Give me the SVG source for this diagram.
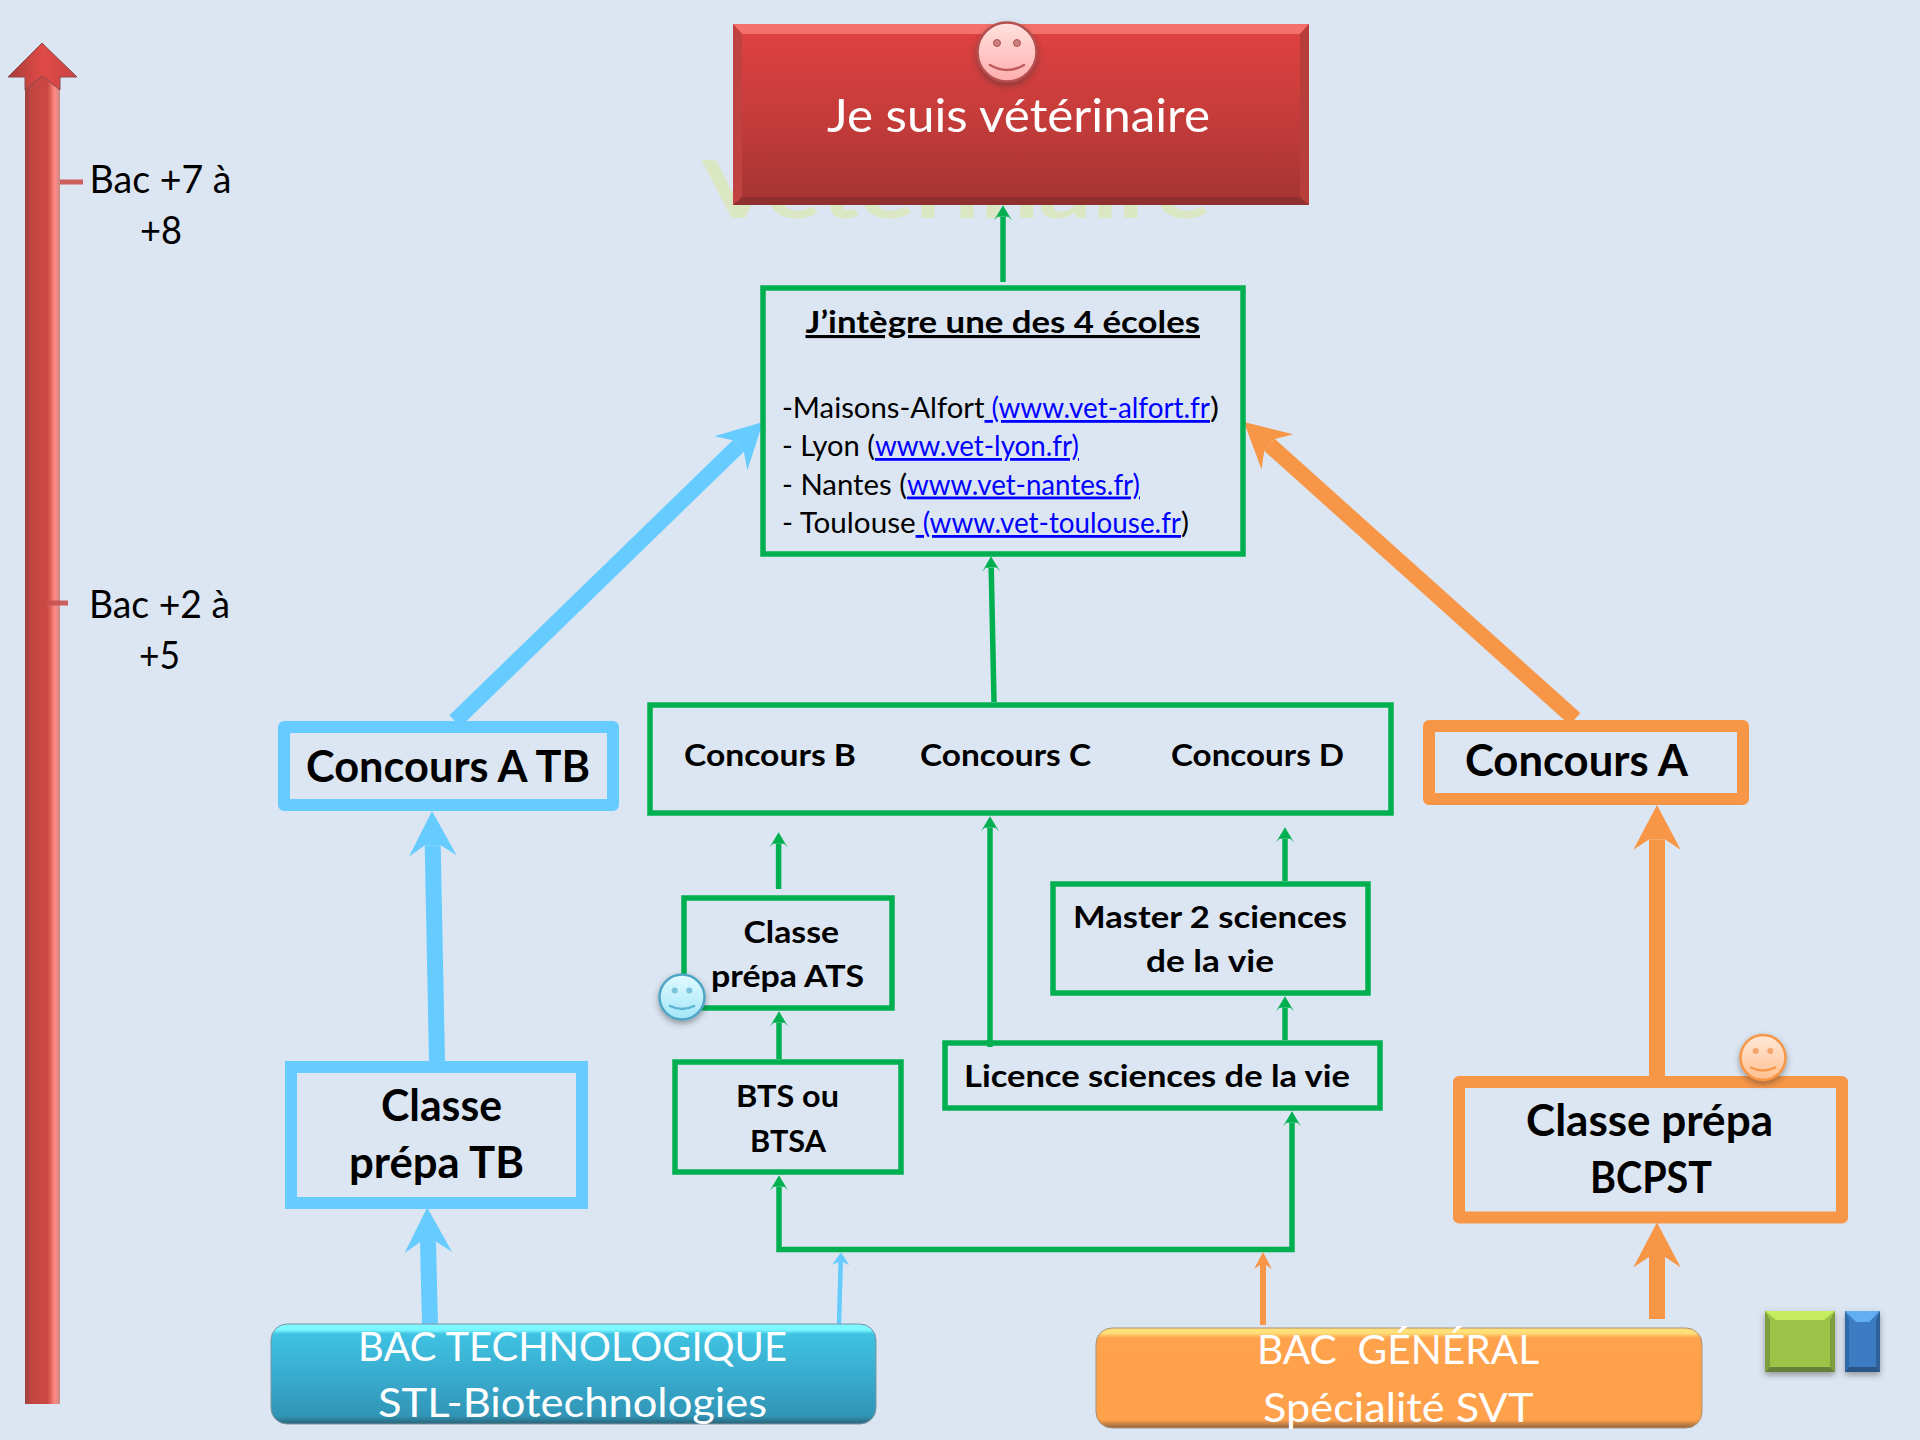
<svg xmlns="http://www.w3.org/2000/svg" width="1920" height="1440" viewBox="0 0 1920 1440">
<style>
text{font-family:"Lato","Carlito","Liberation Sans",sans-serif;fill:#000;white-space:pre}
.b{font-weight:700}
.big{font-size:43px;font-weight:700}
.mid{font-size:31px;font-weight:700}
.scale{font-size:38px}
.link{font-size:28px}
.lk{fill:#0000ff;text-decoration:underline}
.ul{text-decoration:underline}
.w{fill:#fff;font-size:41px}
.gb{fill:none;stroke:#00B050;stroke-width:5.5}
.bb{fill:none;stroke:#66CCFF;stroke-width:12;stroke-linejoin:round}
.ob{fill:none;stroke:#F79646;stroke-width:12;stroke-linejoin:round}
.cg{fill:none;stroke:#00B050;stroke-width:5.5;marker-end:url(#mg)}
.cb{fill:none;stroke:#66CCFF;stroke-width:16;marker-end:url(#mb)}
.co{fill:none;stroke:#F79646;stroke-width:16;marker-end:url(#mo)}
.tick{fill:#C8504E;opacity:.9}
.face{fill:none;stroke-width:2.5;stroke-linecap:round}
</style>
<defs>
<marker id="mg" viewBox="0 -2 3 4" refX=".65" refY="0" markerWidth="3" markerHeight="4" orient="auto-start-reverse" markerUnits="strokeWidth"><path d="M0-1.65L2.8 0L0 1.65L.7 1V-1z" fill="#00B050"/></marker>
<marker id="mb" viewBox="0 -2 3 4" refX=".65" refY="0" markerWidth="3" markerHeight="4" orient="auto" markerUnits="strokeWidth"><path d="M0-1.48L2.8 0L0 1.48L.65 .5V-.5z" fill="#66CCFF"/></marker>
<marker id="mbt" viewBox="0 -2 3 4" refX=".65" refY="0" markerWidth="3" markerHeight="4" orient="auto" markerUnits="strokeWidth"><path d="M0-1.9L2.8 0L0 1.9L.65 .5V-.5z" fill="#66CCFF"/></marker>
<marker id="mo" viewBox="0 -2 3 4" refX=".65" refY="0" markerWidth="3" markerHeight="4" orient="auto" markerUnits="strokeWidth"><path d="M0-1.48L2.8 0L0 1.48L.65 .5V-.5z" fill="#F79646"/></marker>
<linearGradient id="gred" x1="0" y1="0" x2="0" y2="1"><stop offset="0" stop-color="#E04242"/><stop offset=".5" stop-color="#C63C3A"/><stop offset="1" stop-color="#A33533"/></linearGradient>
<linearGradient id="gshaft" x1="0" y1="0" x2="1" y2="0"><stop offset="0" stop-color="#9A423E"/><stop offset=".18" stop-color="#C14640"/><stop offset=".65" stop-color="#CC4842"/><stop offset=".85" stop-color="#FF8A84"/><stop offset="1" stop-color="#C98A88"/></linearGradient>
<linearGradient id="ghead" x1="0" y1="0" x2="1" y2="0"><stop offset="0" stop-color="#A83C38"/><stop offset=".5" stop-color="#E04A46"/><stop offset="1" stop-color="#C84442"/></linearGradient>
<linearGradient id="gtech" x1="0" y1="0" x2="0" y2="1"><stop offset="0" stop-color="#7DF7FF"/><stop offset=".06" stop-color="#7DF7FF"/><stop offset=".1" stop-color="#3FC2E2"/><stop offset=".5" stop-color="#39ADCF"/><stop offset=".92" stop-color="#3195B6"/><stop offset=".98" stop-color="#2B6F86"/><stop offset="1" stop-color="#2B6578"/></linearGradient>
<linearGradient id="ggen" x1="0" y1="0" x2="0" y2="1"><stop offset="0" stop-color="#FFE078"/><stop offset=".05" stop-color="#FFE078"/><stop offset=".1" stop-color="#FFA24C"/><stop offset=".92" stop-color="#FFA04A"/><stop offset=".98" stop-color="#A97242"/><stop offset="1" stop-color="#96683E"/></linearGradient>
<linearGradient id="gsr" x1="0" y1="0" x2="0" y2="1"><stop offset="0" stop-color="#FFE2DE"/><stop offset="1" stop-color="#FFAEAE"/></linearGradient>
<linearGradient id="gsb" x1="0" y1="0" x2="0" y2="1"><stop offset="0" stop-color="#E2FAFF"/><stop offset="1" stop-color="#A2E6F8"/></linearGradient>
<linearGradient id="gso" x1="0" y1="0" x2="0" y2="1"><stop offset="0" stop-color="#FFE8D8"/><stop offset="1" stop-color="#FFC090"/></linearGradient>
<filter id="sh" x="-30%" y="-30%" width="160%" height="170%"><feDropShadow dx="0" dy="3" stdDeviation="3" flood-color="#333" flood-opacity=".45"/></filter>
</defs>
<rect width="1920" height="1440" fill="#DCE6F2"/>

<text x="702" y="218" font-size="80" font-weight="700" textLength="509" lengthAdjust="spacingAndGlyphs" style="fill:#DBE7C2">Vétérinaire</text>

<g id="scale-arrow">
<rect x="25" y="76" width="35" height="1328" fill="url(#gshaft)"/>
<path d="M42 43L77 77H60V90L42 76L25 90V77H8z" fill="url(#ghead)" stroke="#8A4A50" stroke-width="1"/>
<rect class="tick" x="60" y="179.500" width="23" height="5"/>
<rect class="tick" x="45" y="600.500" width="23" height="5"/>
<text class="scale" x="89.500" y="193" textLength="142" lengthAdjust="spacingAndGlyphs">Bac +7 à</text>
<text class="scale" x="140" y="243.500" textLength="42" lengthAdjust="spacingAndGlyphs">+8</text>
<text class="scale" x="89" y="618" textLength="141" lengthAdjust="spacingAndGlyphs">Bac +2 à</text>
<text class="scale" x="139" y="668.500" textLength="41" lengthAdjust="spacingAndGlyphs">+5</text>
</g>

<g id="connectors">
<path class="cg" d="M1003 282V217"/>
<path class="cg" d="M994 702L991.200 568"/>
<path class="cg" d="M778.600 889V844"/>
<path class="cg" d="M990 1047V828"/>
<path class="cg" d="M1285 881V839"/>
<path class="cg" d="M779 1059V1023"/>
<path class="cg" d="M1285 1040V1008"/>
<path class="cg" style="marker-start:url(#mg)" d="M779 1187V1249.500H1292V1123"/>
<path class="cb" d="M455 721L738.300 446"/>
<path class="co" d="M1575 719L1269.600 445"/>
<path class="cb" d="M437 1061L432.700 845.400"/>
<path class="cb" d="M430 1324L428 1242"/>
<path class="co" d="M1657 1076V839.400"/>
<path class="co" d="M1657 1319V1257"/>
<path fill="none" stroke="#66CCFF" stroke-width="4.500" marker-end="url(#mbt)" d="M839 1324L840.700 1262"/>
<path fill="none" stroke="#F79646" stroke-width="6" marker-end="url(#mo)" d="M1263 1325V1265"/>
</g>

<g id="vet">
<rect x="733" y="24" width="576" height="181" fill="url(#gred)"/>
<path d="M733 24H1309L1300 34H742z" fill="#F4716B"/>
<path d="M733 205H1309L1300 197H742z" fill="#8F302E"/>
<path d="M733 24L742 34V197L733 205z" fill="#C04240"/>
<path d="M1309 24L1300 34V197L1309 205z" fill="#B83E3C"/>
<text x="827" y="132" font-size="47" textLength="383" lengthAdjust="spacingAndGlyphs" style="fill:#fff">Je suis vétérinaire</text>
</g>
<g id="smiley-red" transform="translate(1007 52)">
<circle r="29.500" fill="url(#gsr)" stroke="#B5504F" stroke-width="2.500" filter="url(#sh)"/>
<circle cx="-10" cy="-9" r="3.500" fill="#C98080" stroke="#B5504F"/><circle cx="10" cy="-9" r="3.500" fill="#C98080" stroke="#B5504F"/>
<path class="face" stroke="#C05A5A" d="M-17 13Q0 23 17 13"/>
</g>

<g id="ecoles">
<rect class="gb" x="763" y="288" width="480" height="266"/>
<text class="ul b" font-size="31" x="805.500" y="333" textLength="394.500" lengthAdjust="spacingAndGlyphs">J’intègre une des 4 écoles</text>
<text class="link" x="782" y="418" textLength="202.500" lengthAdjust="spacingAndGlyphs">-Maisons-Alfort</text>
<text class="link lk" x="984.500" y="418" textLength="225.500" lengthAdjust="spacingAndGlyphs"> (www.vet-alfort.fr</text>
<text class="link" x="1210" y="418" textLength="9" lengthAdjust="spacingAndGlyphs">)</text>
<text class="link" x="782" y="456" textLength="93" lengthAdjust="spacingAndGlyphs">- Lyon (</text>
<text class="link lk" x="875" y="456" textLength="204" lengthAdjust="spacingAndGlyphs">www.vet-lyon.fr)</text>
<text class="link" x="782" y="494.500" textLength="125" lengthAdjust="spacingAndGlyphs">- Nantes (</text>
<text class="link lk" x="907" y="494.500" textLength="233" lengthAdjust="spacingAndGlyphs">www.vet-nantes.fr)</text>
<text class="link" x="782" y="533" textLength="133.600" lengthAdjust="spacingAndGlyphs">- Toulouse</text>
<text class="link lk" x="915.600" y="533" textLength="265.400" lengthAdjust="spacingAndGlyphs"> (www.vet-toulouse.fr</text>
<text class="link" x="1181" y="533" textLength="8" lengthAdjust="spacingAndGlyphs">)</text>
</g>

<g id="concours-bcd">
<rect class="gb" x="650" y="705" width="741" height="108"/>
<text class="mid" x="684" y="766" textLength="172" lengthAdjust="spacingAndGlyphs">Concours B</text>
<text class="mid" x="920" y="766" textLength="171" lengthAdjust="spacingAndGlyphs">Concours C</text>
<text class="mid" x="1171" y="766" textLength="173" lengthAdjust="spacingAndGlyphs">Concours D</text>
</g>

<g id="concours-a-tb">
<rect class="bb" x="284" y="727" width="329" height="78"/>
<text class="big" x="306" y="782" textLength="284" lengthAdjust="spacingAndGlyphs">Concours A TB</text>
</g>
<g id="concours-a">
<rect class="ob" x="1429" y="726" width="314" height="73"/>
<text class="big" x="1465" y="776" textLength="223" lengthAdjust="spacingAndGlyphs">Concours A</text>
</g>
<g id="prepa-tb">
<rect class="bb" x="291" y="1067" width="291" height="136" style="stroke-linejoin:miter"/>
<text class="big" x="381" y="1121" textLength="121" lengthAdjust="spacingAndGlyphs">Classe</text>
<text class="big" x="349" y="1178" textLength="175" lengthAdjust="spacingAndGlyphs">prépa TB</text>
</g>
<g id="prepa-bcpst">
<rect class="ob" x="1459" y="1082" width="383" height="135.500"/>
<text class="big" x="1526" y="1135.500" textLength="247" lengthAdjust="spacingAndGlyphs">Classe prépa</text>
<text class="big" x="1590" y="1193" textLength="122" lengthAdjust="spacingAndGlyphs">BCPST</text>
</g>
<g id="prepa-ats">
<rect class="gb" x="684" y="898" width="208" height="110"/>
<text class="mid" x="743.500" y="943" textLength="95.500" lengthAdjust="spacingAndGlyphs">Classe</text>
<text class="mid" x="711" y="987" textLength="153" lengthAdjust="spacingAndGlyphs">prépa ATS</text>
</g>
<g id="bts">
<rect class="gb" x="675" y="1062" width="226" height="110"/>
<text class="mid" x="736" y="1107" textLength="103" lengthAdjust="spacingAndGlyphs">BTS ou</text>
<text class="mid" x="750" y="1152" textLength="76" lengthAdjust="spacingAndGlyphs">BTSA</text>
</g>
<g id="master">
<rect class="gb" x="1053" y="884" width="315" height="109"/>
<text class="mid" x="1073" y="928" textLength="274" lengthAdjust="spacingAndGlyphs">Master 2 sciences</text>
<text class="mid" x="1146" y="972" textLength="128" lengthAdjust="spacingAndGlyphs">de la vie</text>
</g>
<g id="licence">
<rect class="gb" x="945" y="1043" width="435" height="65"/>
<text class="mid" x="964" y="1087" textLength="386" lengthAdjust="spacingAndGlyphs">Licence sciences de la vie</text>
</g>

<g id="bac-techno">
<rect x="271" y="1324" width="605" height="100" rx="16" fill="url(#gtech)" stroke="#7C93A4" stroke-width="1"/>
<text class="w" x="358" y="1361" textLength="429" lengthAdjust="spacingAndGlyphs">BAC TECHNOLOGIQUE</text>
<text class="w" x="378" y="1417" textLength="389" lengthAdjust="spacingAndGlyphs">STL-Biotechnologies</text>
</g>
<g id="bac-general">
<rect x="1096" y="1328" width="606" height="100" rx="16" fill="url(#ggen)" stroke="#A98F78" stroke-width="1"/>
<text class="w" x="1257" y="1364" textLength="282" lengthAdjust="spacingAndGlyphs">BAC  GÉNÉRAL</text>
<text class="w" x="1263" y="1422" textLength="270.500" lengthAdjust="spacingAndGlyphs">Spécialité SVT</text>
</g>

<g id="smiley-blue" transform="translate(682 997)">
<circle r="22.500" fill="url(#gsb)" stroke="#4FA6C4" stroke-width="2.500" filter="url(#sh)"/>
<circle cx="-7.300" cy="-6.500" r="3" fill="#7CC4DC"/><circle cx="7.300" cy="-6.500" r="3" fill="#7CC4DC"/>
<path class="face" stroke="#58B4D2" d="M-12 9Q0 15 12 9"/>
</g>
<g id="smiley-orange" transform="translate(1763 1057.500)">
<circle r="22.500" fill="url(#gso)" stroke="#F79646" stroke-width="2.500" filter="url(#sh)"/>
<circle cx="-7.300" cy="-6.500" r="3" fill="#F5A46A"/><circle cx="7.300" cy="-6.500" r="3" fill="#F5A46A"/>
<path class="face" stroke="#F79646" d="M-12 10Q0 16 12 10"/>
</g>

<g id="square-green">
<rect x="1765" y="1311" width="70" height="61" fill="#9BC44A" filter="url(#sh)"/>
<path d="M1765 1311H1835L1824 1320H1776z" fill="#C6EC60"/>
<path d="M1765 1372H1835L1830 1367H1770z" fill="#66803A"/>
<path d="M1765 1311L1770 1320V1367L1765 1372z" fill="#7E9E3E"/>
<path d="M1835 1311L1830 1320V1367L1835 1372z" fill="#7E9E3E"/>
</g>
<g id="square-blue">
<rect x="1845" y="1311" width="35" height="61" fill="#3B7CC2" filter="url(#sh)"/>
<path d="M1845 1311H1880L1869 1322H1856z" fill="#62AEF2"/>
<path d="M1845 1372H1880L1876 1367H1849z" fill="#2A5584"/>
<path d="M1845 1311L1849 1320V1367L1845 1372z" fill="#2F6AA8"/>
<path d="M1880 1311L1876 1320V1367L1880 1372z" fill="#2F6098"/>
</g>
</svg>
